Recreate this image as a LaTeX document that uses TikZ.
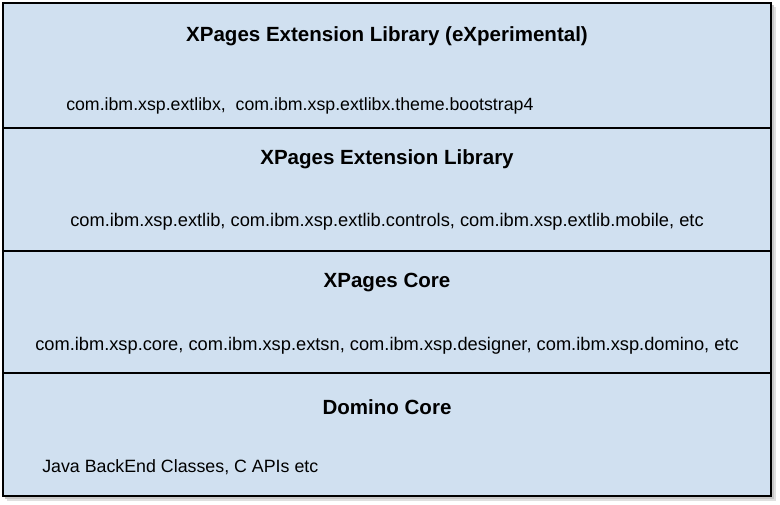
\documentclass[tikz,border=0pt]{standalone}
\usepackage{fontspec}
\setmainfont{Liberation Sans}
\begin{document}
\begin{tikzpicture}[x=0.75pt,y=-0.75pt,
  layer/.style={fill=boxblue,draw=black,line width=1.8pt},
  title/.style={font=\fontsize{15.4pt}{18pt}\selectfont\bfseries,inner sep=0pt,anchor=base},
  body/.style={font=\fontsize{#1}{16pt}\selectfont,inner sep=0pt,anchor=base west}]
\definecolor{boxblue}{HTML}{D0E0F0}
\useasboundingbox (0,0) rectangle (780,505);
\fill[black!12] (7,7) rectangle (776,501);
\fill[black!22] (5,5) rectangle (774,499);
\draw[layer] (3,3) rectangle (771,128);
\draw[layer] (3,128) rectangle (771,251);
\draw[layer] (3,251) rectangle (771,373);
\draw[layer] (3,373) rectangle (771,496);
\node[title] (t1) at (387,42) {XPages Extension Library (eXperimental)};
\node[body=13.3pt] (b1) at (66,111) {com.ibm.xsp.extlibx,\ \ com.ibm.xsp.extlibx.theme.bootstrap4};
\node[title] (t2) at (387,165) {XPages Extension Library};
\node[body=13.7pt] (b2) at (70,227) {com.ibm.xsp.extlib, com.ibm.xsp.extlib.controls, com.ibm.xsp.extlib.mobile, etc};
\node[title] (t3) at (387,288) {XPages Core};
\node[body=13.7pt] (b3) at (35,350) {com.ibm.xsp.core, com.ibm.xsp.extsn, com.ibm.xsp.designer, com.ibm.xsp.domino, etc};
\node[title] (t4) at (387,414) {Domino Core};
\node[body=13.35pt] (b4) at (42,472) {Java BackEnd Classes, C APIs etc};
\end{tikzpicture}
\end{document}
